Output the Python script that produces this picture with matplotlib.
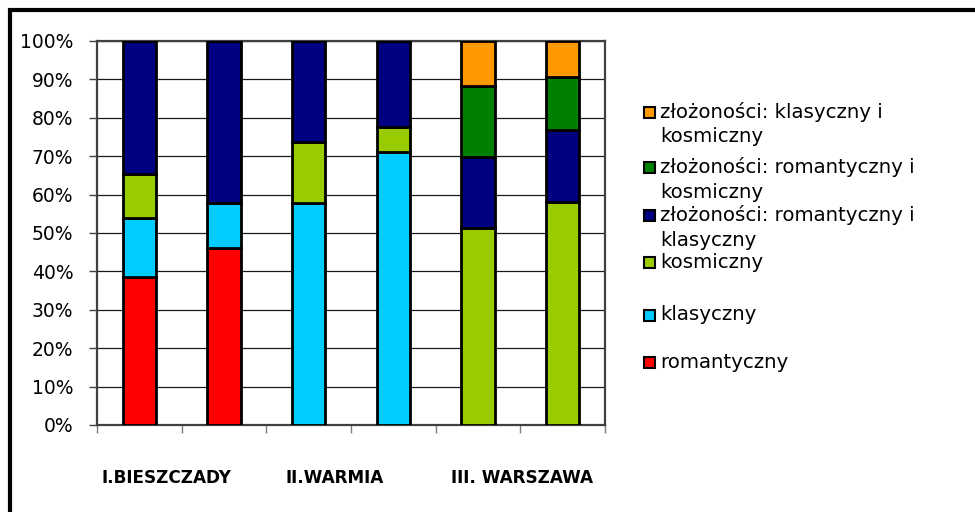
import numpy as np
import matplotlib
matplotlib.use("Agg")
import matplotlib.pyplot as plt
from matplotlib.patches import Rectangle

# udziały procentowe, 6 słupków
serie = [
    "romantyczny",
    "klasyczny",
    "kosmiczny",
    "złożoności: romantyczny i\nklasyczny",
    "złożoności: romantyczny i\nkosmiczny",
    "złożoności: klasyczny i\nkosmiczny",
]
kolory = ["#FF0000", "#00CCFF", "#99CC00", "#000080", "#008000", "#FF9900"]

romantyczny = [38.5, 46.2, 0, 0, 0, 0]
klasyczny = [15.4, 11.5, 57.9, 71.0, 0, 0]
kosmiczny = [11.5, 0, 15.8, 6.5, 51.2, 58.1]
rom_klas = [34.6, 42.3, 26.3, 22.5, 18.6, 18.6]
rom_kosm = [0, 0, 0, 0, 18.6, 14.0]
klas_kosm = [0, 0, 0, 0, 11.6, 9.3]
wartosci = [romantyczny, klasyczny, kosmiczny, rom_klas, rom_kosm, klas_kosm]

grupy = ["I.BIESZCZADY", "II.WARMIA", "III. WARSZAWA"]
grupy_x = [0.315, 2.305, 4.52]

fig = plt.figure(figsize=(9.75, 5.12), dpi=100)
ax = fig.add_axes([97 / 975, 87 / 512, 508 / 975, 384 / 512])

x = np.arange(6)
dol = np.zeros(6)
for nazwa, wart, kol in zip(serie, wartosci, kolory):
    wart = np.array(wart, dtype=float)
    ax.bar(x, wart, bottom=dol, width=0.39, color=kol, edgecolor="black",
           linewidth=2, zorder=3)
    dol += wart

ax.set_xlim(-0.5, 5.5)
ax.set_ylim(0, 100)
ax.set_yticks(np.arange(0, 101, 10))
ax.set_yticklabels([f"{v}%" for v in range(0, 101, 10)], fontsize=13.5)
ax.set_xticks(np.arange(-0.5, 5.6, 1))
ax.set_xticklabels([])
ax.tick_params(axis="y", length=6, width=1, color="#404040", pad=11)
ax.tick_params(axis="x", length=6, width=1, color="#808080")
ax.yaxis.grid(True, color="#1a1a1a", linewidth=0.9, zorder=0)
for s in ax.spines.values():
    s.set_color("#404040")
    s.set_linewidth(1.6)

for g, gx in zip(grupy, grupy_x):
    ax.text(gx, -0.137, g, transform=ax.get_xaxis_transform(), ha="center",
            va="center", fontsize=12.2, fontweight="bold")

# legenda (kolejność odwrócona, jak w Excelu)
leg_y = [112, 167, 215, 262, 315, 362]
for yy, nazwa, kol in zip(leg_y, serie[::-1], kolory[::-1]):
    fy = 1 - yy / 512
    fig.patches.append(Rectangle((644 / 975, fy - 5.5 / 512), 11 / 975, 11 / 512,
                                 transform=fig.transFigure, facecolor=kol,
                                 edgecolor="black", linewidth=1.5))
    for i, linia in enumerate(nazwa.split("\n")):
        fig.text(660 / 975, fy - i * 25 / 512, linia, fontsize=14.2,
                 va="center", ha="left")

# ramka wokół wykresu
fig.patches.append(Rectangle((10 / 975, -0.1), 1.1, 1 - 10 / 512 + 0.1,
                             transform=fig.transFigure, fill=False,
                             edgecolor="black", linewidth=3, clip_on=False))

fig.savefig("out.png", dpi=100)
